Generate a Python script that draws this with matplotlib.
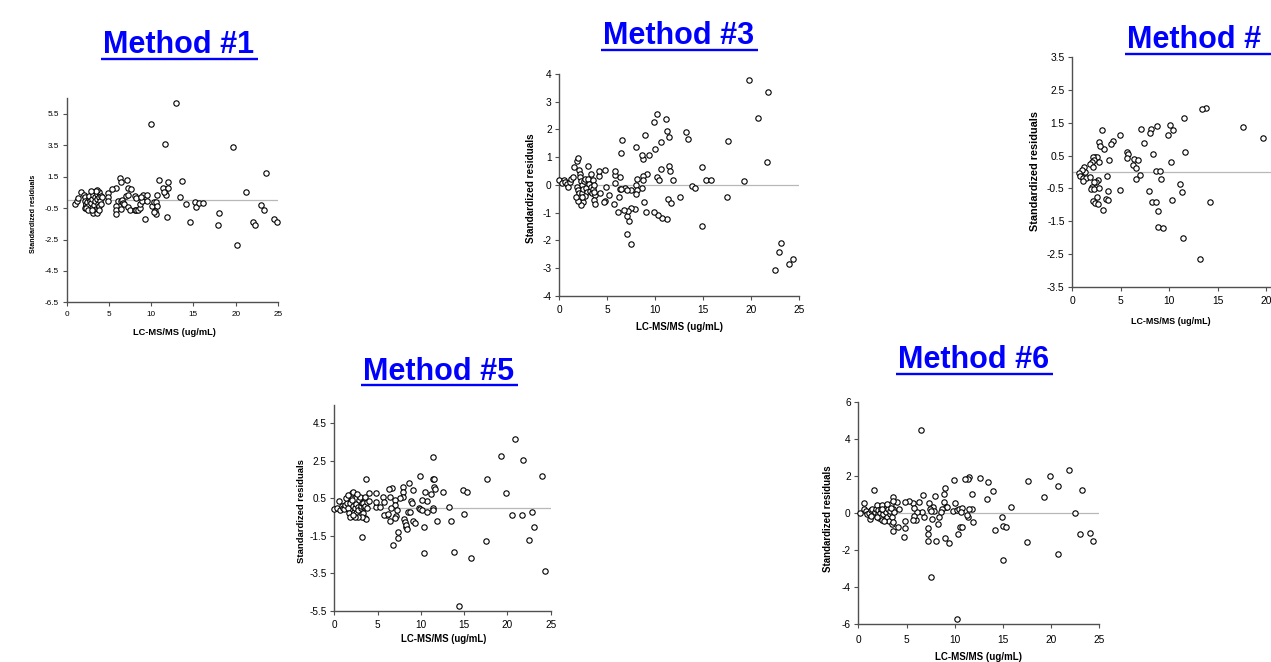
import matplotlib
matplotlib.use("Agg")
import matplotlib.pyplot as plt
from matplotlib.ticker import FormatStrFormatter
from matplotlib.lines import Line2D
import numpy as np

plt.rcParams['font.family'] = ['Liberation Sans', 'DejaVu Sans']

# ---------------- data (x = LC-MS/MS ug/mL, y = standardized residual) ----------------
method1_points = [
    (1.0,-0.24),(1.2,-0.03),(1.32,0.14),(1.73,0.51),(2.0,0.36),(2.13,0.23),(2.2,-0.03),(2.25,-0.28),
    (2.2,-0.5),(2.29,-0.24),(2.41,-0.14),(2.53,-0.35),(2.61,0.14),(2.69,0.29),(2.81,-0.03),(2.93,-0.2),
    (3.01,-0.46),(3.05,0.08),(3.13,0.36),(3.21,-0.28),(3.29,0.19),(3.37,-0.03),(3.45,-0.56),(3.53,0.4),
    (3.61,0.08),(3.69,-0.24),(3.77,0.51),(3.85,0.19),(3.13,-0.8),(3.61,-0.82),(3.69,-0.56),(3.57,0.64),
    (3.77,-0.35),(3.93,-0.03),(4.01,0.29),(4.09,-0.24),(3.85,-0.63),(3.41,0.61),(2.89,0.61),(2.33,-0.46),
    (2.53,-0.59),(3.01,-0.63),
    (4.94,0.46),(4.86,0.23),(4.94,-0.03),(4.21,0.19),(5.86,0.78),(5.34,0.72),(6.02,-0.03),(6.38,-0.03),
    (6.54,0.04),(5.82,-0.35),(5.78,-0.59),(5.86,-0.88),(6.42,-0.56),(6.62,-0.2),(6.82,-0.24),(7.02,0.29),
    (7.22,0.33),(7.3,-0.41),(7.54,-0.61),(8.07,-0.63),(8.23,-0.61),(8.39,-0.61),(8.11,0.27),(8.23,0.14),
    (8.67,-0.48),(8.63,-0.22),(8.91,-0.03),(9.03,0.33),(9.47,0.33),(8.75,0.23),(10.11,-0.37),(10.31,-0.11),
    (10.55,-0.11),(10.71,-0.37),(10.43,-0.67),(10.51,-0.88),(10.35,-0.76),(9.55,-0.03),
    (12.88,6.18),(10.03,4.84),(11.6,3.61),(19.66,3.4),(23.56,1.71),(21.27,0.5),(6.34,1.43),(7.18,1.28),
    (6.42,1.19),(10.87,1.30),(12.0,1.19),(13.64,1.25),(11.36,0.78),(12.04,0.76),(7.26,0.8),(7.58,0.7),
    (11.64,0.48),(11.72,0.33),(10.67,0.33),(13.44,0.18),(14.17,-0.22),(15.13,-0.09),(15.29,-0.42),
    (15.6,-0.18),(16.09,-0.16),(17.98,-0.78),(17.94,-1.57),(14.57,-1.38),(11.88,-1.04),(9.23,-1.17),
    (20.18,-2.84),(22.03,-1.36),(22.23,-1.57),(22.95,-0.31),(23.35,-0.61),(24.48,-1.19),(24.84,-1.38),
    (11.5,0.5),
]

method3_points = [
    (0.0,0.17),(0.45,0.16),(0.28,0.05),(0.59,0.1),(0.76,0.03),(0.94,-0.07),(1.11,0.1),(1.22,0.21),
    (1.39,0.27),(1.56,0.63),(1.88,0.86),(1.98,0.97),(2.08,0.54),(2.12,0.38),(2.15,0.27),(2.26,0.13),
    (2.36,-0.01),(1.81,-0.07),(1.94,-0.19),(2.08,-0.31),(2.19,-0.43),(2.36,-0.28),(2.5,-0.16),(2.57,0.14),
    (2.71,0.22),(2.81,-0.1),(2.88,-0.25),(3.02,0.22),(3.13,0.03),(3.19,-0.21),(3.3,-0.09),(3.4,-0.31),
    (3.47,0.17),(3.54,-0.15),(3.61,-0.01),(3.68,-0.37),(3.61,-0.55),(3.68,-0.69),(3.61,-0.25),(3.3,0.39),
    (2.71,-0.39),(2.5,-0.61),(2.33,-0.45),(2.22,-0.72),(1.94,-0.6),(1.74,-0.43),
    (19.83,3.79),(21.8,3.35),(20.76,2.41),(21.67,0.81),(19.31,0.13),(17.6,1.59),(17.5,-0.45),(23.16,-2.11),
    (22.92,-2.42),(22.47,-3.07),(23.96,-2.87),(24.34,-2.67),(14.9,-1.5),(14.86,0.64),(15.35,0.16),
    (15.83,0.16),(13.89,-0.03),(14.2,-0.13),(13.26,1.9),(13.47,1.67),(12.6,-0.43),(10.24,2.54),(9.86,2.27),
    (11.11,2.38),(11.25,1.94),(11.46,1.71),(10.63,1.56),(10.0,1.29),(10.21,0.27),(10.42,0.16),(10.56,0.58),
    (11.39,0.68),(11.56,0.51),(11.84,0.16),(11.35,-0.5),(11.7,-0.64),(11.22,-1.25),(10.73,-1.21),
    (10.31,-1.1),(9.83,-0.99),(9.06,-0.99),(8.85,-0.61),(9.1,0.39),(8.96,1.79),(9.34,1.08),(8.78,0.92),
    (8.61,1.09),(8.75,0.33),(8.68,0.19),(8.65,-0.13),(7.95,1.37),(8.13,0.2),(7.99,-0.01),(8.06,-0.19),
    (8.02,-0.33),(7.53,-0.19),(7.85,-0.87),(7.47,-0.82),(7.43,-2.12),(7.08,-1.79),(7.26,-1.32),(7.08,-1.13),
    (7.15,-0.96),(6.77,-0.91),(6.88,-0.1),(7.08,-0.2),(6.56,1.61),(6.46,1.16),(6.32,-0.15),(6.42,-0.14),
    (6.32,0.27),(6.22,-0.45),(6.15,-0.99),(5.83,0.05),(5.76,0.36),(5.76,0.5),(5.69,-0.69),(5.21,-0.37),
    (4.79,0.54),(4.86,-0.08),(4.72,-0.58),(4.65,-0.63),(4.13,0.32),(4.1,0.51),(4.2,-0.31),(3.02,0.68),
]

method4_points = [
    (13.78,1.96),(13.33,1.91),(11.55,1.64),(17.6,1.36),(19.69,1.03),(10.1,1.44),(10.41,1.28),(9.9,1.14),
    (8.69,1.41),(8.11,1.3),(8.0,1.2),(7.11,1.31),(7.39,0.87),(4.91,1.13),(4.16,0.95),(3.99,0.84),
    (3.09,1.28),(3.26,0.71),(2.71,0.91),(2.82,0.8),(2.37,0.46),(2.51,0.45),(2.1,0.45),(2.23,0.37),
    (2.0,0.3),(1.79,0.25),(2.16,0.16),(1.34,0.0),(1.17,0.14),(0.96,0.06),(0.72,-0.04),(0.79,-0.12),
    (1.13,-0.17),(1.37,-0.19),(1.07,-0.27),(1.82,-0.15),(2.75,0.32),(2.68,-0.24),(2.47,-0.31),(2.27,-0.3),
    (2.0,-0.45),(1.96,-0.53),(2.23,-0.53),(2.71,-0.48),(2.51,-0.75),(2.16,-0.87),(2.37,-0.96),
    (2.68,-0.98),(3.2,-1.16),(3.44,-0.83),(3.64,-0.84),(3.64,-0.58),(3.54,-0.11),(3.75,0.38),(4.88,-0.56),
    (5.67,0.62),(5.7,0.54),(5.64,0.44),(6.39,0.4),(6.25,0.2),(6.6,0.11),(6.8,0.36),(7.01,-0.09),
    (6.56,-0.21),(8.28,0.54),(7.9,-0.58),(8.21,-0.93),(8.66,-0.93),(8.87,-1.19),(8.59,0.03),(9.07,0.03),
    (9.14,-0.22),(8.8,-1.67),(9.31,-1.7),(10.17,0.32),(10.27,-0.84),(11.07,-0.36),(11.31,-0.62),
    (11.62,0.6),(11.37,-2.0),(14.19,-0.91),(13.16,-2.67),
]

method5_points = [
    (0.0,-0.09),(0.27,-0.04),(0.5,0.37),(0.65,-0.13),(0.85,0.09),(1.04,-0.04),(1.16,-0.09),(1.23,0.14),
    (1.43,0.27),(1.54,-0.04),(1.69,-0.3),(1.81,0.27),(1.93,0.59),(2.04,0.8),(2.12,0.83),(2.08,0.41),
    (2.2,0.09),(2.27,-0.22),(2.39,-0.04),(2.5,0.18),(2.54,-0.3),(2.7,0.05),(2.77,-0.13),(2.85,0.41),
    (2.97,0.55),(3.04,-0.04),(3.12,0.09),(3.2,0.27),(3.27,-0.3),(3.35,0.23),(3.43,0.02),(3.51,0.09),
    (3.58,-0.57),(3.66,-0.61),(3.74,0.32),(3.81,-0.04),(3.58,0.59),(3.16,-0.48),(2.77,-0.48),(2.39,-0.48),
    (1.81,-0.48),(1.35,0.5),(1.62,0.67),(2.58,0.71),(2.12,-0.39),
    (20.88,3.66),(19.26,2.75),(21.84,2.52),(24.04,1.67),(17.68,1.53),(19.8,0.78),(14.83,0.92),(15.33,0.82),
    (11.44,2.72),(11.44,1.51),(11.56,1.51),(9.9,1.69),(8.63,1.3),(11.52,1.08),(11.63,0.99),(12.6,0.82),
    (10.44,0.82),(10.71,0.37),(10.14,0.4),(11.13,0.73),(9.13,0.92),(7.97,1.08),(7.9,0.82),(7.94,0.59),
    (6.63,1.04),(6.28,0.98),(6.43,0.59),(5.66,0.59),(5.78,0.28),(7.59,0.5),(7.05,0.39),(6.97,0.12),
    (7.28,-0.14),(7.09,-0.45),(7.05,-0.57),(6.55,-0.04),(6.43,-0.73),(6.12,-0.41),(5.78,-0.39),(6.2,-0.34),
    (4.81,0.02),(5.28,0.02),(4.81,0.32),(4.81,0.8),(3.97,0.8),(3.62,1.55),(4.04,0.35),(3.2,-1.57),
    (6.74,-1.99),(7.32,-1.62),(7.4,-1.32),(8.01,-0.61),(8.16,-0.77),(8.28,-1.05),(8.28,-0.94),(8.36,-1.12),
    (8.82,0.37),(8.94,0.26),(8.55,-0.25),(8.7,-0.23),(9.05,-0.7),(9.36,-0.84),(9.75,-0.04),(9.94,-0.06),
    (10.14,-0.13),(10.41,-1.05),(10.32,-2.44),(10.67,-0.25),(11.86,-0.71),(11.36,-0.04),(11.36,-0.13),
    (13.21,0.02),(13.44,-0.71),(13.87,-2.35),(14.95,-0.34),(15.79,-2.67),(14.37,-5.24),(17.56,-1.78),
    (20.57,-0.4),(21.65,-0.39),(22.88,-0.25),(23.07,-1.05),(22.5,-1.73),(24.34,-3.39),
]

method6_points = [
    (0.17,0.01),(0.62,0.53),(0.59,0.19),(0.76,0.1),(0.93,-0.05),(1.1,-0.01),(1.17,-0.35),(1.28,0.14),
    (1.45,0.19),(1.62,-0.05),(1.73,0.05),(1.8,0.23),(1.9,0.41),(2.0,-0.08),(2.07,0.14),(2.14,-0.28),
    (2.21,0.01),(2.31,0.19),(2.38,-0.23),(2.49,0.41),(2.59,-0.08),(2.66,0.14),(2.76,-0.32),(2.83,0.05),
    (2.94,0.35),(3.0,-0.19),(3.11,0.19),(3.18,-0.41),(3.25,-0.05),(3.31,0.1),(3.42,0.5),(3.52,-0.19),
    (3.59,0.23),(3.66,0.05),(3.52,-0.59),(3.59,-0.5),(3.0,0.5),(2.49,-0.37),(1.97,-0.23),(2.69,-0.41),
    (3.35,0.28),(2.42,0.23),(1.28,-0.14),
    (6.46,4.5),(7.49,-3.44),(10.26,-5.69),(1.66,1.24),(21.86,2.34),(19.86,1.99),(20.76,1.47),(23.17,1.24),
    (19.3,0.87),(17.61,1.71),(15.82,0.32),(14.99,-0.71),(14.92,-0.19),(15.37,-0.78),(15.05,-2.52),
    (17.5,-1.54),(20.72,-2.21),(22.48,-0.01),(23.0,-1.13),(24.0,-1.09),(24.38,-1.49),(12.64,1.88),
    (13.47,1.65),(13.94,1.16),(13.3,0.77),(14.22,-0.89),(11.53,1.94),(11.39,1.83),(11.08,1.81),(9.94,1.76),
    (11.77,1.02),(11.81,0.23),(11.88,-0.5),(11.53,0.19),(11.39,-0.23),(11.29,-0.12),(10.01,0.53),
    (9.84,0.12),(10.26,0.17),(10.43,0.23),(10.77,0.26),(10.67,0.05),(10.56,-0.77),(10.71,-0.77),
    (10.36,-1.11),(9.36,-1.61),(9.01,-1.36),(9.01,1.36),(8.84,1.0),(8.87,0.59),(9.05,0.35),(9.22,0.32),
    (8.7,0.23),(8.63,0.04),(7.94,0.93),(7.77,0.35),(7.84,0.1),(7.63,-0.33),(8.08,-1.49),(8.29,-0.59),
    (8.36,-0.19),(7.32,0.53),(7.25,-0.8),(7.25,-1.13),(7.22,-1.49),(7.39,0.19),(7.49,0.1),(6.7,0.95),
    (6.84,-0.23),(6.56,0.08),(6.32,0.59),(6.11,0.05),(5.94,-0.37),(5.8,-0.14),(5.7,0.53),(5.73,0.28),
    (5.66,-0.37),(5.25,0.62),(4.83,0.57),(4.83,-0.41),(4.83,-0.82),(4.73,-1.31),(4.14,-0.77),(4.21,0.19),
    (4.04,0.59),(3.63,-0.97),(3.59,0.86),(3.59,0.62),
]

titles = ["Method #1", "Method #3", "Method #", "Method #5", "Method #6"]
x_label = "LC-MS/MS (ug/mL)"
y_label = "Standardized residuals"
x_ticks = [0, 5, 10, 15, 20, 25]
m1_yticks = [-6.5, -4.5, -2.5, -0.5, 1.5, 3.5, 5.5]
m3_yticks = [-4, -3, -2, -1, 0, 1, 2, 3, 4]
m4_yticks = [-3.5, -2.5, -1.5, -0.5, 0.5, 1.5, 2.5, 3.5]
m5_yticks = [-5.5, -3.5, -1.5, 0.5, 2.5, 4.5]
m6_yticks = [-6, -4, -2, 0, 2, 4, 6]

# ---------------- layout ----------------
W, H = 1271, 662
fig = plt.figure(figsize=(W / 100, H / 100), dpi=100)
fig.patch.set_facecolor('white')

AX_COL = '#505050'

def fx(x):
    return x / W

def fy(y):
    return 1 - y / H

def panel(pts, rect, ylim, yticks, yfmt, tick_fs, xpad, xlab, ylab):
    left, top, right, bottom = rect
    ax = fig.add_axes([fx(left), fy(bottom), (right - left) / W, (bottom - top) / H])
    xs = [p[0] for p in pts]
    ys = [p[1] for p in pts]
    ax.axhline(0, color='#b8b8b8', lw=0.9, zorder=1)
    ax.scatter(xs, ys, s=15, facecolors='white', edgecolors='black',
               linewidths=0.8, zorder=3, clip_on=False)
    ax.set_xlim(0, 25)
    ax.set_ylim(*ylim)
    ax.set_xticks(x_ticks)
    ax.set_yticks(yticks)
    ax.yaxis.set_major_formatter(FormatStrFormatter(yfmt))
    for s in ['top', 'right']:
        ax.spines[s].set_visible(False)
    for s in ['left', 'bottom']:
        ax.spines[s].set_color(AX_COL)
        ax.spines[s].set_linewidth(1.0)
    ax.tick_params(direction='out', length=3, width=0.8, color=AX_COL,
                   labelsize=tick_fs, labelcolor='black')
    ax.tick_params(axis='x', pad=xpad)
    ax.tick_params(axis='y', pad=2.5)
    ax.patch.set_alpha(0)
    fig.text(fx(xlab[0]), fy(xlab[1]), x_label, ha='center', va='center',
             fontsize=xlab[2], fontweight='bold')
    fig.text(fx(ylab[0]), fy(ylab[1]), y_label, ha='center', va='center',
             rotation=90, fontsize=ylab[2], fontweight='bold')
    return ax

panel(method1_points, (66.7, 98.3, 278.0, 302.3), (-6.5, 6.5), m1_yticks, '%.1f', 5.9, 3.6,
      (174.3, 332.7, 6.7), (33.3, 214, 5.1))
panel(method3_points, (559.3, 74.0, 799.0, 295.7), (-4, 4), m3_yticks, '%d', 7.3, 3.6,
      (679, 327.0, 7.0), (531, 187.7, 7.2))
panel(method4_points, (1072.3, 57.3, 1314.8, 286.7), (-3.5, 3.5), m4_yticks, '%.1f', 7.4, 3.6,
      (1171, 321.5, 6.4), (1035, 170.8, 7.8))
panel(method5_points, (334.3, 404.6, 550.7, 610.7), (-5.5, 5.5), m5_yticks, '%.1f', 7.2, 3.6,
      (444, 639.5, 6.9), (301, 510.8, 6.8))
panel(method6_points, (858.3, 401.7, 1099.3, 624.3), (-6, 6), m6_yticks, '%d', 7.3, 5.0,
      (978.3, 656.7, 7.0), (827.7, 518.3, 7.0))

# titles (left x, baseline y) in pixels
title_pos = [(102.7, 53.3), (603.3, 44.3), (1127.3, 48.3), (363.3, 380.0), (897.7, 368.3)]
title_objs = []
for t, (x, y) in zip(titles, title_pos):
    tobj = fig.text(fx(x), fy(y), t, ha='left', va='baseline', fontsize=22,
                    fontweight='bold', color='#0000ff')
    title_objs.append((tobj, y))

fig.canvas.draw()
r = fig.canvas.get_renderer()
for i, (tobj, y) in enumerate(title_objs):
    bb = tobj.get_window_extent(renderer=r)
    x0 = bb.x0 - 2
    x1 = bb.x1 + 4 if i != 2 else W + 2
    yy = y + 5.2
    fig.add_artist(Line2D([x0 / W, x1 / W], [fy(yy), fy(yy)], color='#0000ff',
                          lw=1.7, transform=fig.transFigure, solid_capstyle='butt'))

fig.savefig('out.png', dpi=100, facecolor='white')
